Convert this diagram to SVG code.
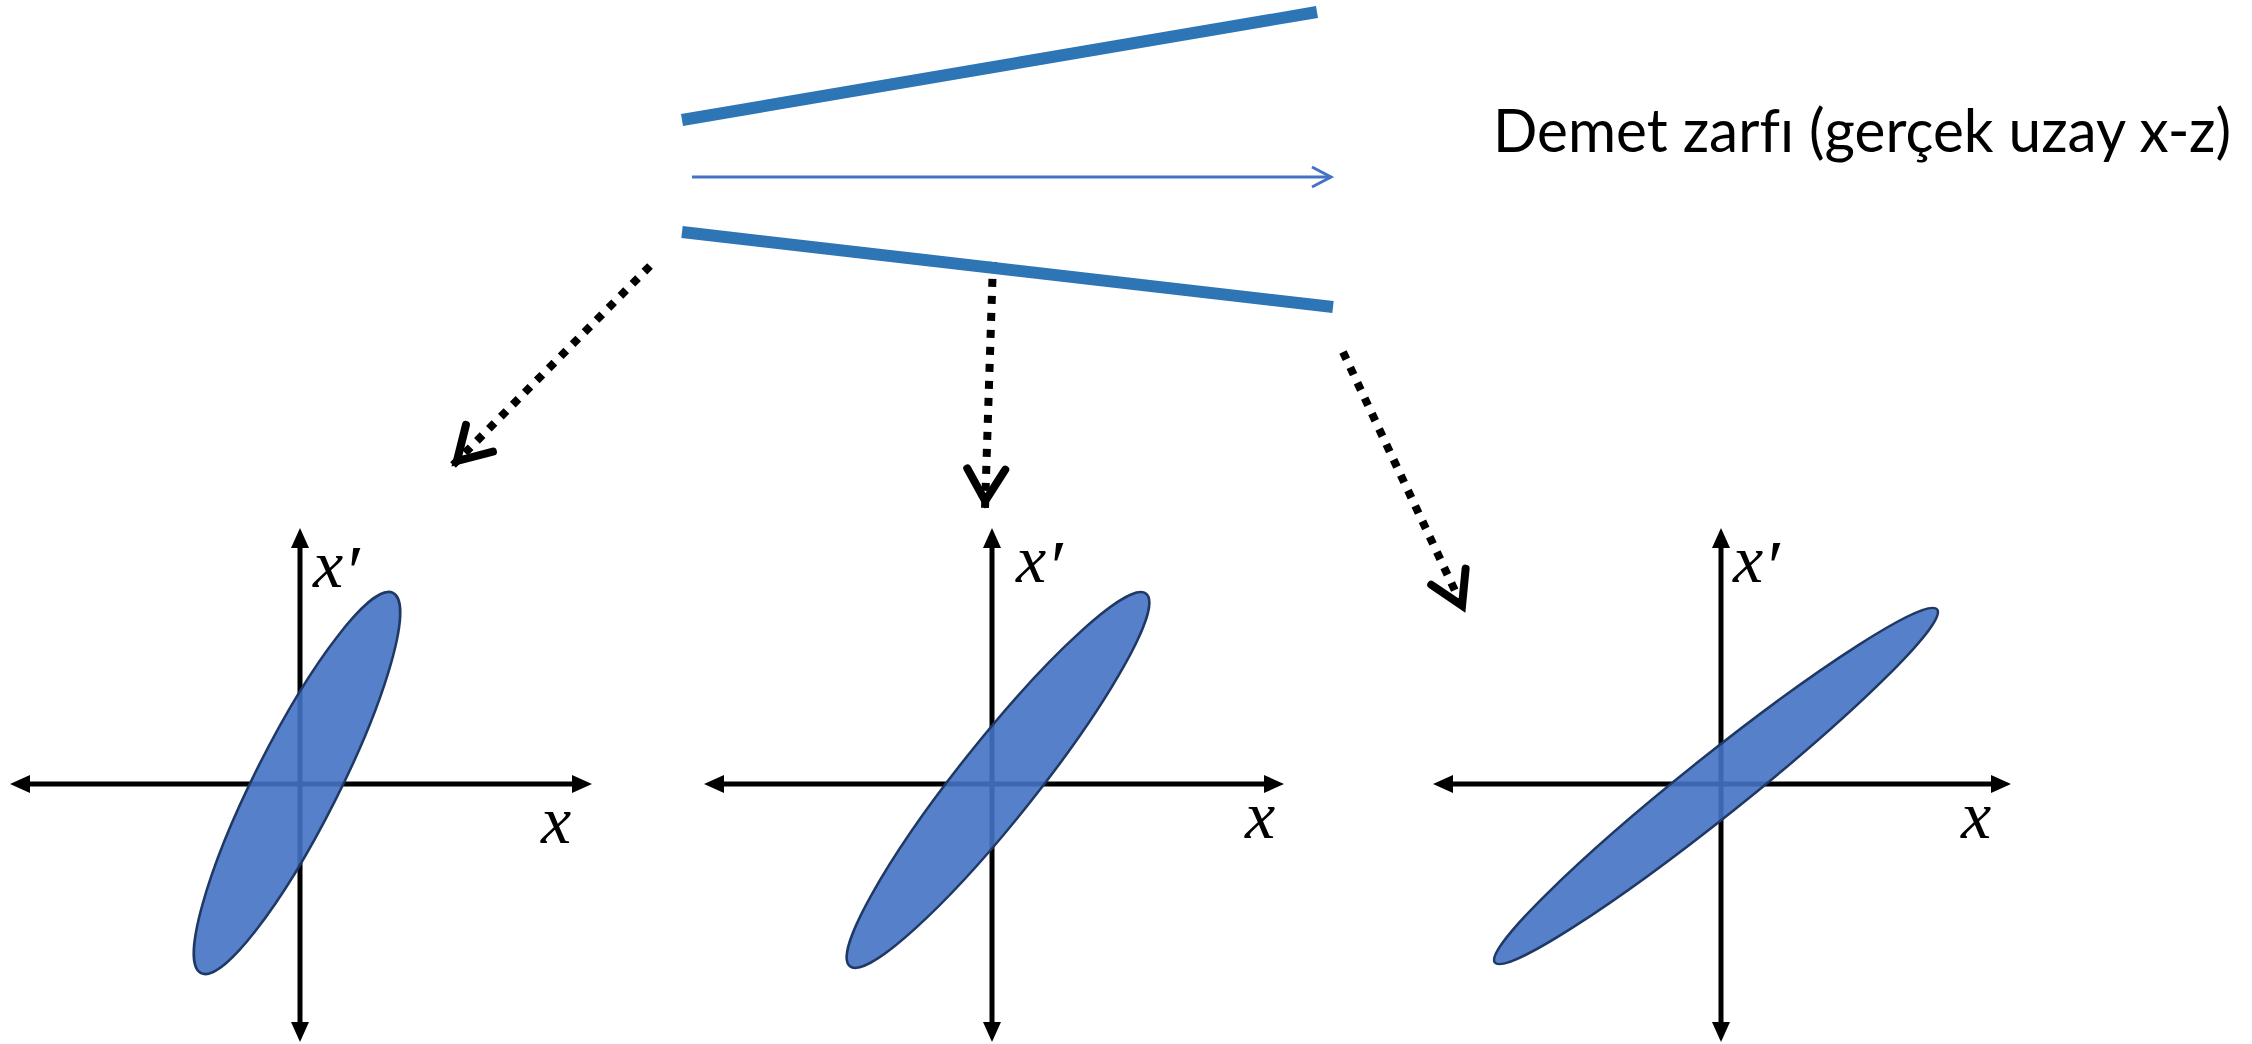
<svg xmlns="http://www.w3.org/2000/svg" width="2252" height="1044" viewBox="0 0 2252 1044">
<style>
.beam{stroke:#2E75B6;stroke-width:12;fill:none;stroke-linecap:butt}
.axis-line{stroke:#000;stroke-width:5;fill:none;marker-start:url(#tri);marker-end:url(#tri)}
.ell{fill:#4472C4;fill-opacity:0.9;stroke:#1F3864;stroke-width:2.5}
.dot{stroke:#000;stroke-width:8;fill:none;stroke-dasharray:8 9;marker-end:url(#vhead)}
.lbl{font-family:"Liberation Serif",serif;font-style:italic;font-size:68px;fill:#000}
.pr{font-size:74px}
.title{font-family:Lato,"Open Sans",sans-serif;font-size:60px;fill:#000;font-variant-ligatures:none;font-feature-settings:"liga" 0}
</style>
<defs>
<marker id="vhead" markerUnits="userSpaceOnUse" viewBox="-50 -30 60 60" refX="0" refY="0" markerWidth="60" markerHeight="60" orient="auto" overflow="visible">
<path d="M-39,-19 L-7,0 L-39,19" fill="none" stroke="#000" stroke-width="8" stroke-linecap="round" stroke-linejoin="miter"/>
</marker>
<marker id="tri" markerUnits="userSpaceOnUse" viewBox="-12 -12 24 24" refX="0" refY="0" markerWidth="24" markerHeight="24" orient="auto-start-reverse" overflow="visible">
<path d="M10,0 L-10,-9 L-10,9 Z" fill="#000"/>
</marker>
<marker id="chev" markerUnits="userSpaceOnUse" viewBox="-25 -15 30 30" refX="0" refY="0" markerWidth="30" markerHeight="30" orient="auto" overflow="visible">
<path d="M-19,-10 L0,0 L-19,10" fill="none" stroke="#4472C4" stroke-width="3"/>
</marker>
</defs>
<rect width="2252" height="1044" fill="#fff"/>

<g id="connectors">
<line class="dot" x1="650" y1="266" x2="452" y2="466"/>
<line class="dot" x1="993" y1="262" x2="985" y2="508"/>
<line class="dot" x1="1343" y1="352" x2="1465" y2="612"/>
</g>

<g id="beam-envelope">
<line class="beam" x1="682" y1="120" x2="1317" y2="12"/>
<line x1="692" y1="177" x2="1331" y2="177" stroke="#4472C4" stroke-width="3" marker-end="url(#chev)"/>
<line class="beam" x1="682" y1="232" x2="1333" y2="307"/>
</g>

<g id="title">
<text class="title" x="1493" y="152" textLength="738" lengthAdjust="spacingAndGlyphs">Demet zarfı (gerçek uzay x-z)</text>
</g>

<g id="plot-1">
<line class="axis-line" x1="20" y1="784" x2="582" y2="784"/>
<line class="axis-line" x1="300" y1="538" x2="300" y2="1032"/>
<ellipse class="ell" cx="297" cy="783" rx="213" ry="42" transform="rotate(-63.2 297 783)"/>
<text class="lbl" x="313" y="587">x<tspan class="pr" dy="10">′</tspan></text>
<text class="lbl" x="541" y="843">x</text>
</g>

<g id="plot-2">
<line class="axis-line" x1="714" y1="784" x2="1274" y2="784"/>
<line class="axis-line" x1="992" y1="538" x2="992" y2="1032"/>
<ellipse class="ell" cx="998" cy="780" rx="238" ry="39" transform="rotate(-51.5 998 780)"/>
<text class="lbl" x="1016" y="582">x<tspan class="pr" dy="10">′</tspan></text>
<text class="lbl" x="1245" y="838">x</text>
</g>

<g id="plot-3">
<line class="axis-line" x1="1443" y1="784" x2="2001" y2="784"/>
<line class="axis-line" x1="1721" y1="538" x2="1721" y2="1032"/>
<ellipse class="ell" cx="1716" cy="786" rx="283" ry="30" transform="rotate(-38.6 1716 786)"/>
<text class="lbl" x="1733" y="582">x<tspan class="pr" dy="10">′</tspan></text>
<text class="lbl" x="1961" y="838">x</text>
</g>
</svg>
